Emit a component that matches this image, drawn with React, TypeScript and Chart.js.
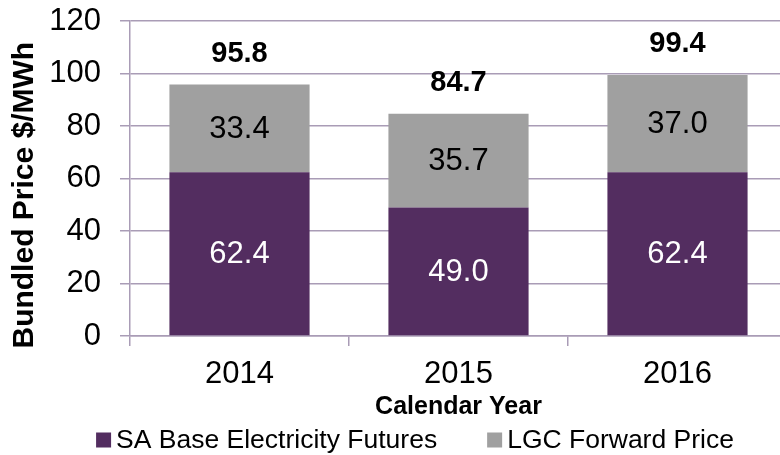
import React, { useEffect, useRef } from 'react';
import { Chart, registerables } from 'chart.js';

Chart.register(...registerables);

const categories = ['2014', '2015', '2016'];
const saBaseFutures = [62.4, 49.0, 62.4];
const lgcForwardPrice = [33.4, 35.7, 37.0];
const seriesNames = ['SA Base Electricity Futures', 'LGC Forward Price'];
const seriesColors = ['#532D60', '#A0A0A0'];
const labelColors = ['#FFFFFF', '#000000'];
const yMin = 0;
const yMax = 120;
const yStep = 20;
const yTitle = 'Bundled Price $/MWh';
const xTitle = 'Calendar Year';

const FONT = '"Liberation Sans", Arial, Helvetica, sans-serif';
const GRID = '#A99CB6';

const barLabelsPlugin = {
  id: 'barLabels',
  afterDatasetsDraw(chart: any) {
    const ctx = chart.ctx;
    ctx.save();
    ctx.textAlign = 'center';
    ctx.textBaseline = 'middle';
    chart.data.datasets.forEach((ds: any, di: number) => {
      const meta = chart.getDatasetMeta(di);
      meta.data.forEach((bar: any, i: number) => {
        const p = bar.getProps(['x', 'y', 'base'], true);
        ctx.fillStyle = labelColors[di];
        ctx.font = `31px ${FONT}`;
        ctx.fillText(Number(ds.data[i]).toFixed(1), p.x, (p.y + p.base) / 2 + 1);
      });
    });
    const yScale = chart.scales.y;
    const lastMeta = chart.getDatasetMeta(chart.data.datasets.length - 1);
    lastMeta.data.forEach((bar: any, i: number) => {
      let total = 0;
      chart.data.datasets.forEach((ds: any) => (total += Number(ds.data[i])));
      const top = yScale.getPixelForValue(total);
      ctx.fillStyle = '#000000';
      ctx.font = `bold 29px ${FONT}`;
      ctx.fillText(total.toFixed(1), bar.x, top - 31);
    });
    ctx.restore();
  },
};

const legendPlugin = {
  id: 'customLegend',
  afterDraw(chart: any) {
    const ctx = chart.ctx;
    ctx.save();
    ctx.font = `26.5px ${FONT}`;
    ctx.textBaseline = 'middle';
    ctx.textAlign = 'left';
    const box = 15;
    const gapBoxText = 5;
    const gapItems = 50;
    const widths = seriesNames.map((n) => ctx.measureText(n).width);
    const total = widths.reduce((a, w) => a + box + gapBoxText + w, 0) + gapItems * (seriesNames.length - 1);
    const centerX = 415;
    const cy = 440;
    let x = centerX - total / 2;
    seriesNames.forEach((n, i) => {
      ctx.fillStyle = seriesColors[i];
      ctx.fillRect(x, cy - box / 2, box, box);
      x += box + gapBoxText;
      ctx.fillStyle = '#000000';
      ctx.fillText(n, x, cy + 1);
      x += widths[i] + gapItems;
    });
    ctx.restore();
  },
};

export default function App() {
  const ref = useRef<HTMLCanvasElement | null>(null);

  useEffect(() => {
    if (!ref.current) return;
    const chart = new Chart(ref.current, {
      type: 'bar',
      data: {
        labels: categories,
        datasets: [
          {
            label: seriesNames[0],
            data: saBaseFutures,
            backgroundColor: seriesColors[0],
            borderWidth: 0,
            categoryPercentage: 1,
            barPercentage: 0.64,
          },
          {
            label: seriesNames[1],
            data: lgcForwardPrice,
            backgroundColor: seriesColors[1],
            borderWidth: 0,
            categoryPercentage: 1,
            barPercentage: 0.64,
          },
        ],
      },
      options: {
        animation: false,
        responsive: false,
        maintainAspectRatio: false,
        devicePixelRatio: 1,
        layout: { padding: { top: 21, right: 0, bottom: 0, left: 0 } },
        plugins: {
          legend: { display: false },
          tooltip: { enabled: false },
          title: { display: false },
        },
        scales: {
          x: {
            stacked: true,
            offset: true,
            grid: {
              offset: true,
              drawOnChartArea: false,
              drawTicks: true,
              tickLength: 10,
              color: GRID,
              lineWidth: 1.5,
            },
            border: { display: true, color: GRID, width: 1.5 },
            ticks: {
              color: '#000000',
              font: { family: FONT, size: 31 },
              padding: 10,
              maxRotation: 0,
            },
            title: {
              display: true,
              text: xTitle,
              color: '#000000',
              font: { family: FONT, size: 25, weight: 'bold' },
              padding: { top: 0, bottom: 33 },
            },
            afterFit(scale: any) {
              scale.height = 455 - 336;
              scale.paddingLeft = 0;
              scale.paddingRight = 0;
            },
          },
          y: {
            stacked: true,
            min: yMin,
            max: yMax,
            ticks: {
              stepSize: yStep,
              color: '#000000',
              font: { family: FONT, size: 31 },
              padding: 19,
            },
            grid: {
              color: GRID,
              lineWidth: 1.5,
              drawTicks: true,
              tickLength: 10,
            },
            border: { display: true, color: GRID, width: 1.5 },
            title: {
              display: true,
              text: yTitle + '    ',
              color: '#000000',
              font: { family: FONT, size: 30, weight: 'bold' },
              padding: { top: 7, bottom: 0 },
            },
            afterFit(scale: any) {
              scale.width = 130;
              scale.paddingTop = 0;
              scale.paddingBottom = 0;
            },
          },
        },
      },
      plugins: [barLabelsPlugin, legendPlugin],
    } as any);
    return () => chart.destroy();
  }, []);

  return (
    <div
      style={{
        position: 'fixed',
        left: 0,
        top: 0,
        width: 780,
        height: 455,
        overflow: 'hidden',
        background: '#ffffff',
      }}
    >
      <canvas ref={ref} width={787} height={455} style={{ display: 'block', width: 787, height: 455 }} />
    </div>
  );
}
